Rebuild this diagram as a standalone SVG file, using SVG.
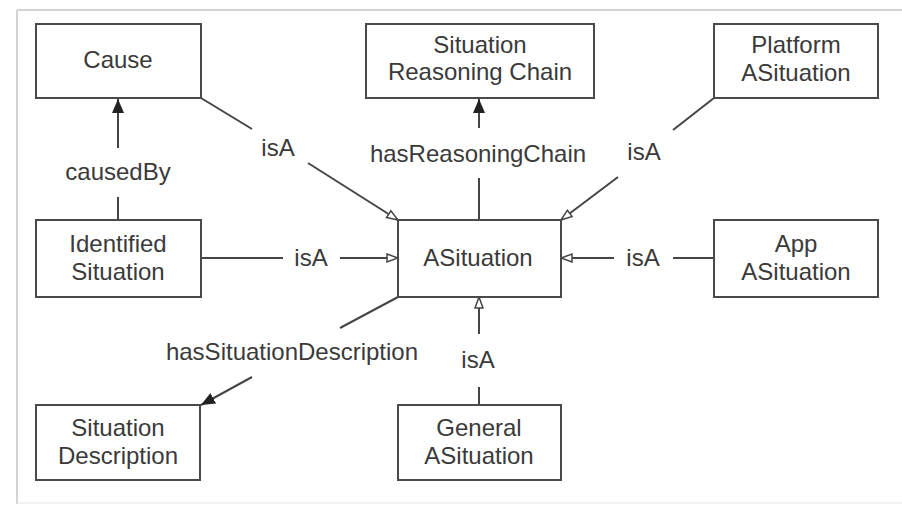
<svg xmlns="http://www.w3.org/2000/svg" width="902" height="505" viewBox="0 0 902 505">
  <style>
    .box { fill: #fff; stroke: #4a4a4a; stroke-width: 2; }
    .lbl { font-family: "Liberation Sans", Arial, sans-serif; font-size: 24px; fill: #3a3a3a; text-anchor: middle; }
    .edge { fill: none; stroke: #454545; stroke-width: 2; }
    .frame { stroke: #d4d4d4; stroke-width: 2; fill: none; }
  </style>
  <defs>
    <marker id="filled" markerUnits="userSpaceOnUse" markerWidth="16" markerHeight="14" refX="14" refY="6" orient="auto">
      <path d="M0,0 L14,6 L0,12 z" fill="#222"/>
    </marker>
    <marker id="hollow" markerUnits="userSpaceOnUse" markerWidth="14" markerHeight="12" refX="12" refY="5" orient="auto">
      <path d="M1,1 L12,5 L1,9 z" fill="#fff" stroke="#454545" stroke-width="1.5"/>
    </marker>
  </defs>

  <rect width="902" height="505" fill="#fff"/>
  <!-- outer frame -->
  <path class="frame" d="M17,10 H902 M17,10 V504"/>
  <path d="M17,503 H902" stroke="#ececec" stroke-width="1.5"/>

  <!-- connectors -->
  <g id="connectors">
    <!-- causedBy -->
    <line class="edge" x1="118" y1="220" x2="118" y2="197"/>
    <line class="edge" x1="118" y1="148" x2="118" y2="99" marker-end="url(#filled)"/>
    <text class="lbl" x="118" y="180">causedBy</text>

    <!-- Cause isA ASituation -->
    <line class="edge" x1="201" y1="98" x2="252" y2="129"/>
    <line class="edge" x1="308" y1="163" x2="398" y2="220" marker-end="url(#hollow)"/>
    <text class="lbl" x="278" y="156">isA</text>

    <!-- hasReasoningChain -->
    <line class="edge" x1="479" y1="220" x2="479" y2="178"/>
    <line class="edge" x1="479" y1="128" x2="479" y2="99" marker-end="url(#filled)"/>
    <text class="lbl" x="478" y="162">hasReasoningChain</text>

    <!-- Platform isA ASituation -->
    <line class="edge" x1="714" y1="98" x2="673" y2="130"/>
    <line class="edge" x1="618" y1="177" x2="561" y2="220" marker-end="url(#hollow)"/>
    <text class="lbl" x="644" y="160">isA</text>

    <!-- Identified isA ASituation -->
    <line class="edge" x1="201" y1="258" x2="283" y2="258"/>
    <line class="edge" x1="340" y1="258" x2="398" y2="258" marker-end="url(#hollow)"/>
    <text class="lbl" x="311" y="266">isA</text>

    <!-- App isA ASituation -->
    <line class="edge" x1="714" y1="258" x2="673" y2="258"/>
    <line class="edge" x1="614" y1="258" x2="561" y2="258" marker-end="url(#hollow)"/>
    <text class="lbl" x="643" y="266">isA</text>

    <!-- General isA ASituation -->
    <line class="edge" x1="479" y1="405" x2="479" y2="387"/>
    <line class="edge" x1="479" y1="334" x2="479" y2="297" marker-end="url(#hollow)"/>
    <text class="lbl" x="478" y="368">isA</text>

    <!-- hasSituationDescription -->
    <line class="edge" x1="398" y1="297" x2="340" y2="328"/>
    <line class="edge" x1="252" y1="377" x2="201" y2="405" marker-end="url(#filled)"/>
    <text class="lbl" x="292" y="360">hasSituationDescription</text>
  </g>

  <!-- nodes -->
  <g id="cause">
    <rect class="box" x="36" y="24" width="165" height="74"/>
    <text class="lbl" x="118" y="68">Cause</text>
  </g>
  <g id="situation-reasoning-chain">
    <rect class="box" x="366" y="24" width="228" height="74"/>
    <text class="lbl" x="480" y="53">Situation</text>
    <text class="lbl" x="480" y="80">Reasoning Chain</text>
  </g>
  <g id="platform-asituation">
    <rect class="box" x="714" y="24" width="164" height="74"/>
    <text class="lbl" x="796" y="53">Platform</text>
    <text class="lbl" x="796" y="81">ASituation</text>
  </g>
  <g id="identified-situation">
    <rect class="box" x="36" y="220" width="165" height="77"/>
    <text class="lbl" x="118" y="252">Identified</text>
    <text class="lbl" x="118" y="280">Situation</text>
  </g>
  <g id="asituation">
    <rect class="box" x="398" y="220" width="163" height="77"/>
    <text class="lbl" x="478" y="266">ASituation</text>
  </g>
  <g id="app-asituation">
    <rect class="box" x="714" y="220" width="164" height="77"/>
    <text class="lbl" x="796" y="252">App</text>
    <text class="lbl" x="796" y="280">ASituation</text>
  </g>
  <g id="situation-description">
    <rect class="box" x="36" y="405" width="164" height="75"/>
    <text class="lbl" x="118" y="436">Situation</text>
    <text class="lbl" x="118" y="464">Description</text>
  </g>
  <g id="general-asituation">
    <rect class="box" x="398" y="405" width="163" height="75"/>
    <text class="lbl" x="479" y="436">General</text>
    <text class="lbl" x="479" y="464">ASituation</text>
  </g>
</svg>
